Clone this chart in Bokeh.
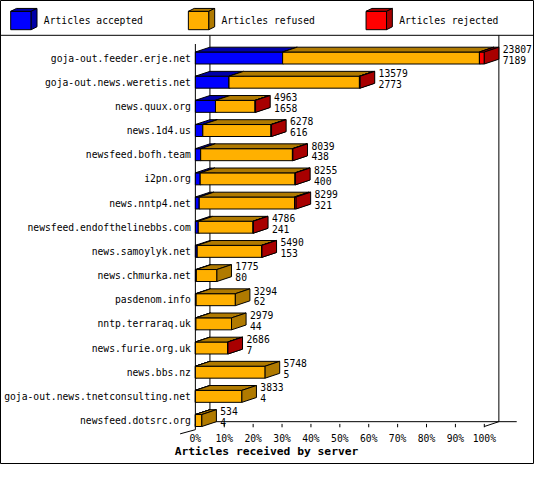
import numpy as np
from bokeh.plotting import figure
from bokeh.models import Range1d, ColumnDataSource
from bokeh.core.properties import value
from bokeh.embed import file_html
from bokeh.resources import INLINE

# ---------------- data ----------------
servers = [
    "goja-out.feeder.erje.net", "goja-out.news.weretis.net", "news.quux.org",
    "news.1d4.us", "newsfeed.bofh.team", "i2pn.org", "news.nntp4.net",
    "newsfeed.endofthelinebbs.com", "news.samoylyk.net", "news.chmurka.net",
    "pasdenom.info", "nntp.terraraq.uk", "news.furie.org.uk", "news.bbs.nz",
    "goja-out.news.tnetconsulting.net", "newsfeed.dotsrc.org",
]
offered = [23807, 13579, 4963, 6278, 8039, 8255, 8299, 4786, 5490, 1775,
           3294, 2979, 2686, 5748, 3833, 534]
accepted = [7189, 2773, 1658, 616, 438, 400, 321, 241, 153, 80,
            62, 44, 7, 5, 4, 4]
# rejected counts
rejected = [400, 60, 40, 40, 40, 40, 130, 30, 30, 0,
            0, 0, 20, 0, 0, 0]
refused = [o - a - r for o, a, r in zip(offered, accepted, rejected)]

series_names = ["Articles accepted", "Articles refused", "Articles rejected"]
tick_values = [0, 10, 20, 30, 40, 50, 60, 70, 80, 90, 100]
tick_labels = ["0%", "10%", "20%", "30%", "40%", "50%", "60%", "70%", "80%", "90%", "100%"]
x_title = "Articles received by server"

front_colors = ["#0000ff", "#ffb000", "#ff0000"]
shade_colors = ["#0000a8", "#b07a00", "#a80000"]

# ---------------- layout helpers (reference pixel -> data units) ----------------
X0_PX, PX_PER_PCT = 200.7, 2.976
ROW0_PX, ROW_PX = 59.5, 25.0


def rx(px):
    return (px - X0_PX) / PX_PER_PCT


def ry(py):
    return (py - ROW0_PX) / ROW_PX


def dxp(px):
    return px / PX_PER_PCT


def dyp(py):
    return py / ROW_PX


H = dyp(6.2)      # half bar height
DX = dxp(15.0)    # 3-D depth, horizontal
DY = dyp(5.0)     # 3-D depth, vertical (upwards)

n = len(servers)
max_total = max(offered)

p = figure(width=534, height=464, output_backend="svg", toolbar_location=None,
           x_range=Range1d(rx(0), rx(550)), y_range=Range1d(ry(480), ry(0)),
           x_axis_type=None, y_axis_type=None, min_border=0)
p.grid.visible = False
p.outline_line_color = "black"
p.outline_line_width = 1
p.background_fill_color = "white"
p.border_fill_color = "white"

FONT = value("DejaVu Sans Mono")
FS = value("9.7px")

# ---------------- frame lines ----------------
floor_front = (n - 1) + H
floor_back = floor_front - DY
top_y = ry(36)
frame_xs = [
    [rx(0), rx(550)],                       # legend separator
    [DX, DX],                               # back wall left
    [100 + DX, 100 + DX],                   # back wall right
    [DX, rx(531.7)],                        # floor back line
    [100, 100 + DX],                        # right floor diagonal
    [rx(185), 0],                           # left floor diagonal
    [0, 0],                                 # front value axis
]
frame_ys = [
    [top_y, top_y],
    [top_y, floor_back],
    [top_y, floor_back],
    [floor_back, floor_back],
    [floor_front, floor_back],
    [ry(448.3), ry(444)],
    [ry(45), ry(444)],
]
for t in tick_values:
    frame_xs.append([t, t])
    frame_ys.append([ry(438), ry(441.5)])
p.multi_line(frame_xs, frame_ys, line_color="black", line_width=1)

# ---------------- bars (3-D stacked) ----------------
pxs, pys, pcols = [], [], []
for i in range(n):
    vals = [accepted[i], refused[i], rejected[i]]
    a = 0.0
    top = i - H
    bot = i + H
    for s, v in enumerate(vals):
        if v <= 0:
            continue
        b = a + v / max_total * 100.0
        # front
        pxs.append([a, b, b, a]); pys.append([top, top, bot, bot]); pcols.append(front_colors[s])
        # top
        pxs.append([a, b, b + DX, a + DX]); pys.append([top, top, top - DY, top - DY]); pcols.append(shade_colors[s])
        # side
        pxs.append([b, b, b + DX, b + DX]); pys.append([top, bot, bot - DY, top - DY]); pcols.append(shade_colors[s])
        a = b
p.patches(pxs, pys, fill_color=pcols, line_color="black", line_width=1)

# ---------------- value labels ----------------
lab_x = [o / max_total * 100.0 + DX + dxp(4) for o in offered]
p.text(lab_x, [i - dyp(9.5) for i in range(n)], text=[str(v) for v in offered],
       text_font=FONT, text_font_size=FS, text_baseline="middle", text_align="left",
       text_color="black")
p.text(lab_x, [i + dyp(1.8) for i in range(n)], text=[str(v) for v in accepted],
       text_font=FONT, text_font_size=FS, text_baseline="middle", text_align="left",
       text_color="black")

# ---------------- category labels ----------------
p.text([rx(196)] * n, list(range(n)), text=servers, text_font=FONT, text_font_size=FS,
       text_baseline="middle", text_align="right", text_color="black")

# ---------------- x tick labels & title ----------------
p.text(tick_values, [ry(453)] * len(tick_values), text=tick_labels, text_font=FONT,
       text_font_size=FS, text_baseline="middle", text_align="center", text_color="black")
p.text([rx(274)], [ry(466.5)], text=[x_title], text_font=FONT,
       text_font_size=value("11.3px"), text_font_style="bold",
       text_baseline="middle", text_align="center", text_color="black")

# ---------------- legend ----------------
lxs, lys, lcols = [], [], []
ltx, lty = [], []
for k in range(3):
    x0 = rx(10.5 + 183 * k)
    x1 = rx(31.6 + 183 * k)
    y0 = ry(11.2)
    y1 = ry(30.2)
    ddx, ddy = dxp(6), dyp(3)
    lxs += [[x0, x1, x1, x0], [x0, x1, x1 + ddx, x0 + ddx], [x1, x1, x1 + ddx, x1 + ddx]]
    lys += [[y0, y0, y1, y1], [y0, y0, y0 - ddy, y0 - ddy], [y0, y1, y1 - ddy, y0 - ddy]]
    lcols += [front_colors[k], shade_colors[k], shade_colors[k]]
    ltx.append(rx(44.6 + 183 * k))
    lty.append(ry(21))
p.patches(lxs, lys, fill_color=lcols, line_color="black", line_width=1)
p.text(ltx, lty, text=series_names, text_font=FONT, text_font_size=FS,
       text_baseline="middle", text_align="left", text_color="black")

open("out.html", "w").write(file_html(p, INLINE))
